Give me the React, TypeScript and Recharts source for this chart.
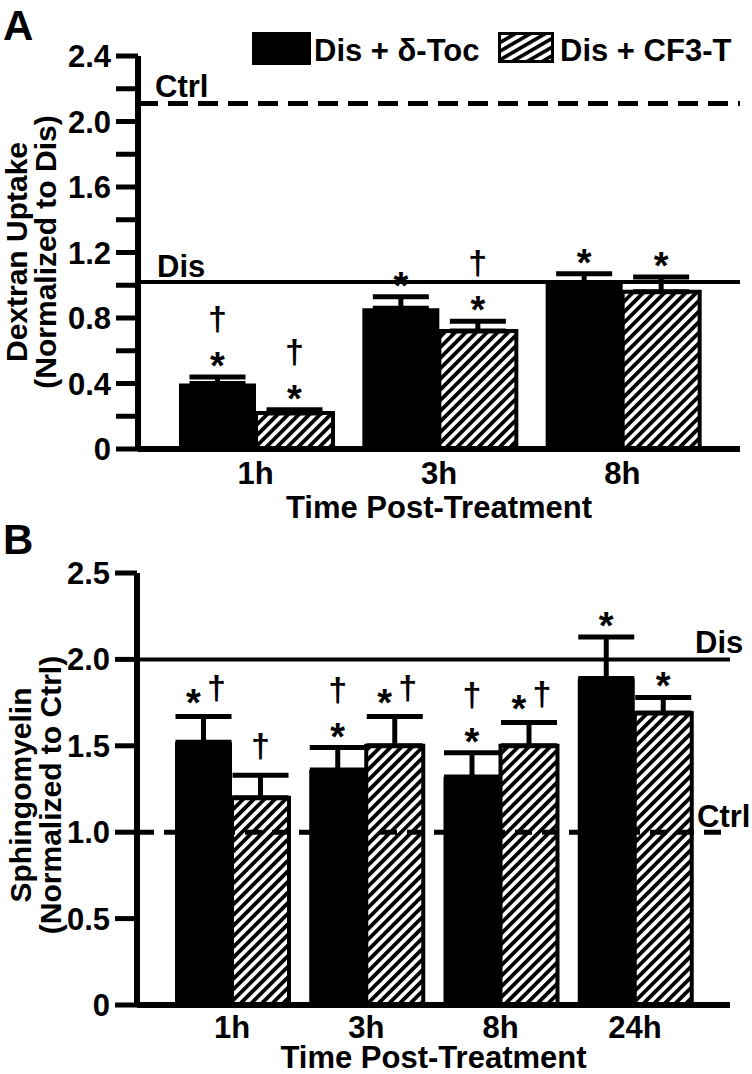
import React from "react";
import {
  BarChart,
  Bar,
  XAxis,
  YAxis,
  ErrorBar,
  ReferenceLine,
  LabelList,
} from "recharts";

const FONT = "'Liberation Sans', Arial, Helvetica, sans-serif";
const FS = 31;

// ---- Panel A: dextran uptake ----
const timesA = ["1h", "3h", "8h"];
const tocA = [0.4, 0.86, 1.01];
const tocErrA = [0.04, 0.07, 0.06];
const cf3A = [0.22, 0.72, 0.96];
const cf3ErrA = [0.02, 0.06, 0.09];
const marksTocA = ["stack", "star", "star"];
const marksCf3A = ["stack", "stack", "star"];
const ticksA = [0, 0.2, 0.4, 0.6, 0.8, 1.0, 1.2, 1.4, 1.6, 1.8, 2.0, 2.2, 2.4];
const tickLabelsA = ["0", "", "0.4", "", "0.8", "", "1.2", "", "1.6", "", "2.0", "", "2.4"];
const ctrlA = 2.11;
const disA = 1.02;

// ---- Panel B: sphingomyelin ----
const timesB = ["1h", "3h", "8h", "24h"];
const tocB = [1.52, 1.36, 1.32, 1.89];
const tocErrB = [0.15, 0.13, 0.14, 0.24];
const cf3B = [1.2, 1.5, 1.5, 1.69];
const cf3ErrB = [0.13, 0.17, 0.135, 0.09];
const marksTocB = ["side", "stack", "stack", "star"];
const marksCf3B = ["dag", "side", "side", "star"];
const ticksB = [0, 0.5, 1.0, 1.5, 2.0, 2.5];
const tickLabelsB = ["0", "0.5", "1.0", "1.5", "2.0", "2.5"];
const disB = 2.0;
const ctrlB = 1.0;

const legendItems = [
  { name: "Dis + δ-Toc", fill: "#000" },
  { name: "Dis + CF3-T", fill: "url(#hatchLegend)" },
];

function buildRows(times: string[], toc: number[], tocErr: number[], cf3: number[], cf3Err: number[]) {
  return times.map((t, i) => ({
    t,
    toc: toc[i],
    cf3: cf3[i],
    tocErr: [0, tocErr[i]],
    cf3Err: [0, cf3Err[i]],
  }));
}

const dataA = buildRows(timesA, tocA, tocErrA, cf3A, cf3ErrA);
const dataB = buildRows(timesB, tocB, tocErrB, cf3B, cf3ErrB);

// * and † marks above the error bars
function markRenderer(values: number[], errs: number[], marks: string[]) {
  return function MarkContent(props: any) {
    const vb = props.viewBox ?? props;
    const x = Number(vb.x);
    const y = Number(vb.y);
    const w = Number(vb.width);
    const h = Math.abs(Number(vb.height));
    const i = props.index;
    const v = values[i];
    if (v == null || !isFinite(x) || !isFinite(y)) return null;
    const k = h / v;
    const cx = x + w / 2;
    const capY = y - errs[i] * k;
    const starC = capY - 20;
    const star = (sx: number, c: number) => (
      <text key="s" x={sx} y={c + 22} textAnchor="middle" fontSize={38} fontWeight="bold" fill="#000">
        *
      </text>
    );
    const dag = (dx: number, c: number) => (
      <text key="d" x={dx} y={c + 9} textAnchor="middle" fontSize={34} fontWeight="bold" fill="#000">
        †
      </text>
    );
    const m = marks[i];
    if (m === "star") return <g>{star(cx, starC)}</g>;
    if (m === "stack") return <g>{star(cx, starC)}{dag(cx, starC - 36)}</g>;
    if (m === "side") return <g>{star(cx - 10, starC - 2)}{dag(cx + 13, starC - 6)}</g>;
    if (m === "dag") return <g>{dag(cx, capY - 27)}</g>;
    return null;
  };
}

function refLabel(text: string, dx: number, dy: number) {
  return (props: any) => {
    const vb = props.viewBox || {};
    return (
      <text x={vb.x + dx} y={vb.y + dy} fontSize={FS} fontWeight="bold" fill="#000">
        {text}
      </text>
    );
  };
}

function yLabel(line1: string, line2: string, b1: number, b2: number, cy: number) {
  return () => (
    <g>
      <text x={b1} y={cy} transform={`rotate(-90, ${b1}, ${cy})`} textAnchor="middle" fontSize={30} fontWeight="bold" fill="#000">
        {line1}
      </text>
      <text x={b2} y={cy} transform={`rotate(-90, ${b2}, ${cy})`} textAnchor="middle" fontSize={30} fontWeight="bold" fill="#000">
        {line2}
      </text>
    </g>
  );
}

function xLabel(text: string, dy: number) {
  return (props: any) => {
    const vb = props.viewBox || {};
    return (
      <text x={vb.x + vb.width / 2} y={vb.y + dy} textAnchor="middle" fontSize={FS} fontWeight="bold" fill="#000">
        {text}
      </text>
    );
  };
}

const tickStyle = { fill: "#000", fontSize: FS, fontWeight: "bold" };
const axisStyle = { stroke: "#000", strokeWidth: 6 };
const tickLineStyle = { stroke: "#000", strokeWidth: 5 };

export default function App() {
  return (
    <div
      style={{
        position: "absolute",
        left: 0,
        top: 0,
        width: 752,
        height: 1074,
        background: "#fff",
        fontFamily: FONT,
        fontWeight: "bold",
        overflow: "hidden",
      }}
    >
      <svg width={752} height={1074} style={{ position: "absolute", left: 0, top: 0 }}>
        <defs>
          <pattern id="hatchBar" patternUnits="userSpaceOnUse" width={7.5} height={7.5} patternTransform="rotate(45)">
            <rect width={7.5} height={7.5} fill="#fff" />
            <rect width={3.8} height={7.5} fill="#000" />
          </pattern>
          <pattern id="hatchLegend" patternUnits="userSpaceOnUse" width={7.5} height={7.5} patternTransform="rotate(60)">
            <rect width={7.5} height={7.5} fill="#fff" />
            <rect width={3.6} height={7.5} fill="#000" />
          </pattern>
        </defs>
        <text x={3} y={40} fontSize={42} fontWeight="bold" fill="#000">A</text>
        <text x={3} y={554} fontSize={42} fontWeight="bold" fill="#000">B</text>
        {/* legend */}
        <rect x={252} y={32} width={59} height={33} fill={legendItems[0].fill} />
        <text x={314} y={61} fontSize={FS} fontWeight="bold" fill="#000">{legendItems[0].name}</text>
        <rect x={499.5} y={33.5} width={53} height={28} fill={legendItems[1].fill} stroke="#000" strokeWidth={3} />
        <text x={560} y={61} fontSize={FS} fontWeight="bold" fill="#000">{legendItems[1].name}</text>
      </svg>

      {/* Panel A */}
      <div style={{ position: "absolute", left: 0, top: 0 }}>
        <BarChart
          width={752}
          height={530}
          data={dataA}
          margin={{ top: 56, right: 12, bottom: 11, left: 58 }}
          barCategoryGap={15}
          barGap={0}
        >
          <XAxis
            dataKey="t"
            height={70}
            padding={{ left: 26, right: 26 }}
            axisLine={axisStyle}
            tickLine={false}
            tickSize={0}
            tickMargin={13}
            tick={tickStyle}
            label={xLabel("Time Post-Treatment", 69)}
          />
          <YAxis
            width={80}
            domain={[0, 2.4]}
            ticks={ticksA}
            interval={0}
            tickFormatter={(_v: number, i: number) => tickLabelsA[i]}
            axisLine={axisStyle}
            tickLine={tickLineStyle}
            tickSize={22}
            tickMargin={5}
            tick={tickStyle}
            label={yLabel("Dextran Uptake", "(Normalized to Dis)", 27, 56, 252)}
          />
          <Bar dataKey="toc" fill="#000" isAnimationActive={false}>
            <ErrorBar dataKey="tocErr" direction="y" width={28} stroke="#000" strokeWidth={5} isAnimationActive={false} />
            <LabelList dataKey="toc" content={markRenderer(tocA, tocErrA, marksTocA)} />
          </Bar>
          <Bar dataKey="cf3" fill="url(#hatchBar)" stroke="#000" strokeWidth={4} isAnimationActive={false}>
            <ErrorBar dataKey="cf3Err" direction="y" width={28} stroke="#000" strokeWidth={5} isAnimationActive={false} />
            <LabelList dataKey="cf3" content={markRenderer(cf3A, cf3ErrA, marksCf3A)} />
          </Bar>
          <ReferenceLine y={ctrlA} stroke="#000" strokeWidth={5} strokeDasharray="20 10" label={refLabel("Ctrl", 17, -6)} />
          <ReferenceLine y={disA} stroke="#000" strokeWidth={4} label={refLabel("Dis", 19, -5)} />
        </BarChart>
      </div>

      {/* Panel B */}
      <div style={{ position: "absolute", left: 0, top: 520 }}>
        <BarChart
          width={752}
          height={554}
          data={dataB}
          margin={{ top: 53, right: 22, bottom: 9, left: 57 }}
          barCategoryGap={10}
          barGap={0}
        >
          <XAxis
            dataKey="t"
            height={60}
            padding={{ left: 28, right: 28 }}
            axisLine={axisStyle}
            tickLine={false}
            tickSize={0}
            tickMargin={11}
            tick={tickStyle}
            label={xLabel("Time Post-Treatment", 63)}
          />
          <YAxis
            width={80}
            domain={[0, 2.5]}
            ticks={ticksB}
            interval={0}
            tickFormatter={(_v: number, i: number) => tickLabelsB[i]}
            axisLine={axisStyle}
            tickLine={tickLineStyle}
            tickSize={22}
            tickMargin={5}
            tick={tickStyle}
            label={yLabel("Sphingomyelin", "(Normalized to Ctrl)", 31, 61, 275)}
          />
          <Bar dataKey="toc" fill="#000" isAnimationActive={false}>
            <ErrorBar dataKey="tocErr" direction="y" width={28} stroke="#000" strokeWidth={5} isAnimationActive={false} />
            <LabelList dataKey="toc" content={markRenderer(tocB, tocErrB, marksTocB)} />
          </Bar>
          <Bar dataKey="cf3" fill="url(#hatchBar)" stroke="#000" strokeWidth={4} isAnimationActive={false}>
            <ErrorBar dataKey="cf3Err" direction="y" width={28} stroke="#000" strokeWidth={5} isAnimationActive={false} />
            <LabelList dataKey="cf3" content={markRenderer(cf3B, cf3ErrB, marksCf3B)} />
          </Bar>
          <ReferenceLine y={disB} stroke="#000" strokeWidth={4} label={refLabel("Dis", 558, -6)} />
          <ReferenceLine y={ctrlB} stroke="#000" strokeWidth={5} strokeDasharray="17 10" label={refLabel("Ctrl", 560, -5)} />
        </BarChart>
      </div>
    </div>
  );
}
